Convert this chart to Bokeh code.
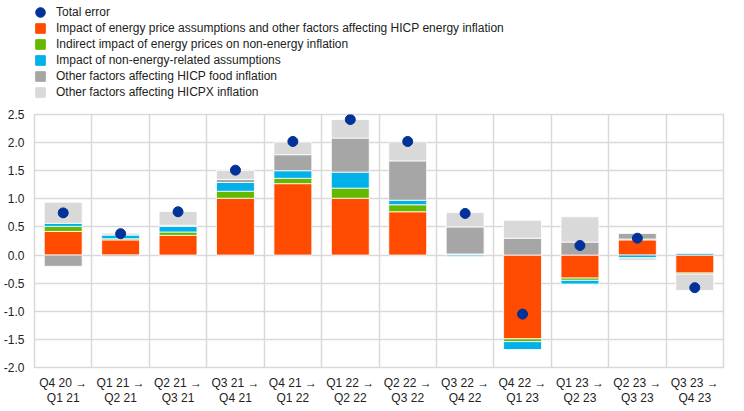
from bokeh.plotting import figure
from bokeh.layouts import column
from bokeh.models import (ColumnDataSource, Legend, LegendItem, FixedTicker,
                          Range1d, NumeralTickFormatter)
from bokeh.embed import file_html
from bokeh.resources import INLINE

# ---- data ----
categories = ["Q4 20 \u2192\nQ1 21", "Q1 21 \u2192\nQ2 21", "Q2 21 \u2192\nQ3 21",
              "Q3 21 \u2192\nQ4 21", "Q4 21 \u2192\nQ1 22", "Q1 22 \u2192\nQ2 22",
              "Q2 22 \u2192\nQ3 22", "Q3 22 \u2192\nQ4 22", "Q4 22 \u2192\nQ1 23",
              "Q1 23 \u2192\nQ2 23", "Q2 23 \u2192\nQ3 23", "Q3 23 \u2192\nQ4 23"]
total_error = [0.75, 0.38, 0.77, 1.51, 2.02, 2.41, 2.02, 0.74, -1.05, 0.17, 0.30, -0.58]
energy = [0.42, 0.27, 0.35, 1.01, 1.27, 1.01, 0.77, 0.02, -1.49, -0.41, 0.27, -0.32]
indirect = [0.09, 0.02, 0.06, 0.125, 0.095, 0.18, 0.125, 0.0, -0.05, -0.04, 0.015, -0.02]
non_energy = [0.055, 0.065, 0.10, 0.155, 0.135, 0.285, 0.08, -0.02, -0.14, -0.065, -0.05, 0.035]
food = [-0.20, -0.025, 0.02, 0.055, 0.285, 0.605, 0.70, 0.48, 0.30, 0.23, 0.10, 0.0]
hicpx = [0.375, 0.035, 0.245, 0.16, 0.225, 0.33, 0.34, 0.255, 0.32, 0.45, -0.045, -0.29]
y_ticks = [-2, -1.5, -1, -0.5, 0, 0.5, 1, 1.5, 2, 2.5]

series_names = ["Impact of energy price assumptions and other factors affecting HICP energy inflation",
                "Indirect impact of energy prices on non-energy inflation",
                "Impact of non-energy-related assumptions",
                "Other factors affecting HICP food inflation",
                "Other factors affecting HICPX inflation"]
series_values = [energy, indirect, non_energy, food, hicpx]
series_colors = ["#ff4b00", "#65b800", "#00b1ea", "#a6a6a6", "#d9d9d9"]
dot_color = "#003299"

FONT = "Liberation Sans"
x = [i + 0.5 for i in range(len(categories))]

# ---- main chart ----
p = figure(frame_width=689, frame_height=253, x_range=Range1d(0, 12), y_range=Range1d(-2, 2.5),
           output_backend="svg", toolbar_location=None,
           min_border_left=0, min_border_right=4, min_border_top=6, min_border_bottom=0)

pos = [0.0] * len(x)
neg = [0.0] * len(x)
for vals, col in zip(series_values, series_colors):
    bottoms, tops = [], []
    for i, v in enumerate(vals):
        if v >= 0:
            bottoms.append(pos[i]); tops.append(pos[i] + v); pos[i] += v
        else:
            bottoms.append(neg[i]); tops.append(neg[i] + v); neg[i] += v
    src = ColumnDataSource(dict(x=x, bottom=bottoms, top=tops))
    p.vbar(x="x", bottom="bottom", top="top", width=0.66, source=src,
           fill_color=col, line_color="white", line_width=0.8)

p.scatter(x=x, y=total_error, size=10, fill_color=dot_color, line_color=dot_color)

grid_col = "#d9d9d9"
p.xgrid.ticker = FixedTicker(ticks=list(range(13)))
p.xgrid.grid_line_color = grid_col
p.xgrid.grid_line_width = 1.5
p.ygrid.ticker = FixedTicker(ticks=y_ticks)
p.ygrid.grid_line_color = grid_col
p.ygrid.grid_line_width = 1.5
p.outline_line_color = grid_col
p.outline_line_width = 1.5

p.yaxis.ticker = FixedTicker(ticks=y_ticks)
p.yaxis.formatter = NumeralTickFormatter(format="0.0")
p.xaxis.ticker = FixedTicker(ticks=x)
p.xaxis.major_label_overrides = {xx: c for xx, c in zip(x, categories)}
for ax in (p.xaxis[0], p.yaxis[0]):
    ax.axis_line_color = None
    ax.major_tick_line_color = None
    ax.minor_tick_line_color = None
    ax.major_tick_out = 0
    ax.major_tick_in = 0
    ax.major_label_text_font = FONT
    ax.major_label_text_font_size = "12px"
    ax.major_label_text_color = "#222222"
p.xaxis.major_label_text_line_height = 1.1
p.yaxis.major_label_standoff = 10
p.xaxis.major_label_standoff = 8

# ---- legend panel (separate figure; legend swatches from off-range dummy glyphs) ----
lg = figure(width=728, height=108, x_range=Range1d(0, 1), y_range=Range1d(0, 1),
            output_backend="svg", toolbar_location=None,
            min_border_left=0, min_border_right=0, min_border_top=0, min_border_bottom=0)
lg.axis.visible = False
lg.grid.visible = False
lg.outline_line_color = None

hidden = ColumnDataSource(dict(x=[-5.0], y=[-5.0], top=[-5.0], bottom=[-5.0]))
dot_r = lg.ellipse(x="x", y="y", width=10, height=10, width_units="screen",
                   height_units="screen", source=hidden,
                   fill_color=dot_color, line_color=dot_color)
items = [LegendItem(label="Total error", renderers=[dot_r])]
for name, col in zip(series_names, series_colors):
    r = lg.vbar(x="x", top="top", bottom="bottom", width=0.1, source=hidden,
                fill_color=col, line_color=col)
    items.append(LegendItem(label=name, renderers=[r]))

legend = Legend(items=items, location=(0, 9), orientation="vertical",
                label_text_font=FONT, label_text_font_size="12px", label_text_color="#222222",
                glyph_width=12, glyph_height=12, label_height=12, spacing=2,
                label_standoff=10, padding=0, margin=0,
                background_fill_alpha=0, border_line_alpha=0)
lg.add_layout(legend, "center")

layout = column(lg, p, spacing=0)
open("out.html", "w").write(file_html(layout, INLINE))
